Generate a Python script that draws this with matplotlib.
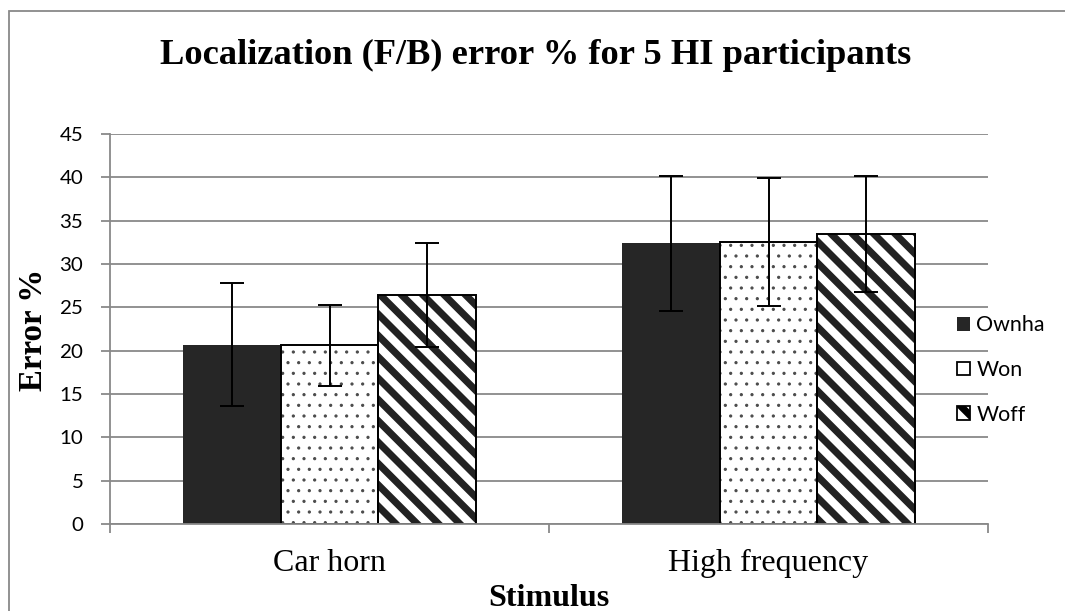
import matplotlib
matplotlib.use("Agg")
import matplotlib.pyplot as plt
from matplotlib.patches import Rectangle
import numpy as np

# data
stimuli = ["Car horn", "High frequency"]
series = ["Ownha", "Won", "Woff"]
ownha = [20.7, 32.4]
won = [20.6, 32.5]
woff = [26.4, 33.5]
ownha_err = [7.1, 7.8]
won_err = [4.65, 7.4]
woff_err = [6.0, 6.7]
yticks = [0, 5, 10, 15, 20, 25, 30, 35, 40, 45]

DPI = 128
W, H = 1065, 611
GRAY = "#888888"
SANS = ["Lato", "DejaVu Sans"]
SERIF = ["Liberation Serif", "DejaVu Serif"]

fig = plt.figure(figsize=(W / DPI, H / DPI), dpi=DPI)
ax = fig.add_axes([110 / W, 1 - 524 / H, (988 - 110) / W, (524 - 134) / H])

x = np.arange(len(stimuli))
bw = 0.222

# styles per series: fill, hatch, hatch colour, hatch line width, legend hatch
styles = [("#262626", None, "#262626", 1.0, None),
          ("white", "..", "#4a4a4a", 0.6, None),
          ("white", "\\\\", "#222222", 4.0, "\\\\")]
vals = [ownha, won, woff]
errs = [ownha_err, won_err, woff_err]

handles = []
for i, (v, e, st) in enumerate(zip(vals, errs, styles)):
    fc, hatch, hc, hlw, leg_hatch = st
    pos = x + (i - 1) * bw
    plt.rcParams["hatch.linewidth"] = hlw
    bars = ax.bar(pos, v, width=bw, color=fc, hatch=hatch, edgecolor=hc,
                  linewidth=0, zorder=2)
    for p in bars:
        if hasattr(p, "set_hatch_linewidth"):
            p.set_hatch_linewidth(hlw)
    # outline on top
    if i > 0:
        ax.bar(pos, v, width=bw, fill=False, edgecolor="black",
               linewidth=1.1, zorder=2.5)
    ax.errorbar(pos, v, yerr=e, fmt="none", ecolor="black", elinewidth=1.1,
                capsize=6.5, capthick=1.1, zorder=3)
    h = Rectangle((0, 0), 1, 1, facecolor=fc, hatch=leg_hatch, edgecolor=hc,
                  linewidth=0)
    if hasattr(h, "set_hatch_linewidth"):
        h.set_hatch_linewidth(min(hlw, 2.0))
    if i > 0:
        h.set_linewidth(1.0)
        h.set_edgecolor("black")
    handles.append(h)

ax.set_xlim(-0.5, 1.5)
ax.set_ylim(0, 45)
ax.set_yticks(yticks)
ax.set_yticklabels([str(t) for t in yticks], family=SANS, fontsize=11.5)
ax.yaxis.grid(True, color=GRAY, linewidth=1.0)
ax.set_axisbelow(True)

ax.set_xticks(x)
ax.set_xticklabels(stimuli, family=SERIF, fontsize=18)
ax.set_xticks([-0.5, 0.5, 1.5], minor=True)
ax.tick_params(axis="x", which="major", length=0, pad=14)
ax.tick_params(axis="x", which="minor", length=5, width=1.0, color=GRAY)
ax.tick_params(axis="y", length=5, width=1.0, color=GRAY, pad=10)

for s in ["top", "right"]:
    ax.spines[s].set_visible(False)
for s in ["left", "bottom"]:
    ax.spines[s].set_color(GRAY)
    ax.spines[s].set_linewidth(1.0)

fig.text(536 / W, 1 - 55 / H, "Localization (F/B) error % for 5 HI participants",
         family=SERIF, fontsize=20.5, fontweight="bold", ha="center", va="center")
fig.text(33 / W, 1 - 330 / H, "Error %", family=SERIF, fontsize=18.5,
         fontweight="bold", rotation=90, ha="center", va="center")
fig.text(549 / W, 1 - 598 / H, "Stimulus", family=SERIF, fontsize=18,
         fontweight="bold", ha="center", va="center")

fig.legend(handles, series, loc="center left",
           bbox_to_anchor=(957 / W, 1 - 370 / H), frameon=False,
           prop={"family": SANS, "size": 12}, handlelength=0.6,
           handleheight=0.6, handletextpad=0.3, labelspacing=1.15,
           borderpad=0, borderaxespad=0)

# chart area border (only left and top are in view)
fig.patches.append(Rectangle((9 / W, -0.1), 1.2, 1 - 11 / H + 0.1,
                             transform=fig.transFigure, fill=False,
                             edgecolor=GRAY, linewidth=1.0))

fig.savefig("out.png", dpi=DPI)
